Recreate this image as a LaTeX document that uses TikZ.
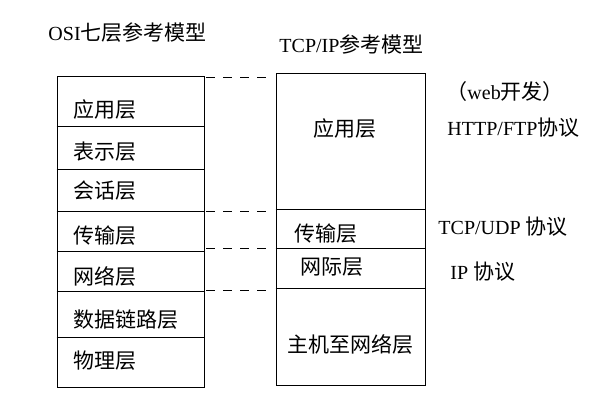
\documentclass[tikz,border=0pt]{standalone}
\usepackage{fontspec}
\setmainfont{Liberation Serif}
\newfontfamily\cjk[Scale=1.05]{Noto Sans CJK SC}
\usetikzlibrary{calc, positioning}

\begin{document}
\begin{tikzpicture}[x=1pt, y=-1pt, line width=0.9pt,
    font=\fontsize{20}{24}\selectfont,
    modelbox/.style={draw, inner sep=0pt, minimum width=#1},
    layertext/.style={anchor=west, inner sep=0pt},
    linkline/.style={line width=0.8pt, dash pattern=on 9pt off 8pt,
        shorten <=2pt, shorten >=3pt}]

    % =================================================================
    % 1. KHUNG HINH
    % =================================================================
    \useasboundingbox (0,0) rectangle (598,404);

    \node[modelbox=147pt, minimum height=311pt] (osi) at (130.5,231.5) {};
    \node[modelbox=149pt, minimum height=312pt] (tcp) at (350.5,229) {};

    % =================================================================
    % 2. TIEU DE
    % =================================================================
    \node[layertext] (osititle) at (48,33) {OSI{\cjk 七层参考模型}};
    \node[layertext] (tcptitle) at (279,44) {TCP/IP{\cjk 参考模型}};

    % =================================================================
    % 3. CAC DUONG PHAN LOP
    % =================================================================
    % Mo hinh OSI bay lop
    \foreach \y in {126,169,211,251,291,337}
        \draw (osi.west |- 0,\y) -- (osi.east |- 0,\y);

    % Mo hinh TCP/IP bon lop
    \foreach \y in {209,248,288}
        \draw (tcp.west |- 0,\y) -- (tcp.east |- 0,\y);

    % =================================================================
    % 4. CAC DUONG NOI NET DUT
    % =================================================================
    \draw[linkline] (osi.east |- 0,77) -- (tcp.west |- 0,77);
    \draw[linkline] (osi.east |- 0,211) -- (tcp.west |- 0,211);
    \draw[linkline] (osi.east |- 0,248) -- (tcp.west |- 0,248);
    \draw[linkline] (osi.east |- 0,290) -- (tcp.west |- 0,290);

    % =================================================================
    % 5. NHAN CAC LOP
    % =================================================================
    \node[layertext] (osiapp) at (73,110) {\cjk 应用层};
    \node[layertext] (osipre) at (73,152) {\cjk 表示层};
    \node[layertext] (osises) at (73,191) {\cjk 会话层};
    \node[layertext] (ositra) at (73,236) {\cjk 传输层};
    \node[layertext] (osinet) at (73,276) {\cjk 网络层};
    \node[layertext] (osidat) at (73,320) {\cjk 数据链路层};
    \node[layertext] (osiphy) at (73,361) {\cjk 物理层};

    \node (tcpapp) at (345,129) {\cjk 应用层};
    \node[layertext] (tcptra) at (294,234) {\cjk 传输层};
    \node[layertext] (tcpint) at (300,267) {\cjk 网际层};
    \node[layertext] (tcphost) at (287,344) {\cjk 主机至网络层};

    % =================================================================
    % 6. GIAO THUC
    % =================================================================
    \node[layertext] (web) at (446,92) {{\cjk （}web{\cjk 开发）}};
    \node[layertext] (http) at (447,128) {HTTP/FTP{\cjk 协议}};
    \node[layertext] (tcpudp) at (438,227) {TCP/UDP {\cjk 协议}};
    \node[layertext] (ip) at (450,272) {IP {\cjk 协议}};

\end{tikzpicture}
\end{document}
